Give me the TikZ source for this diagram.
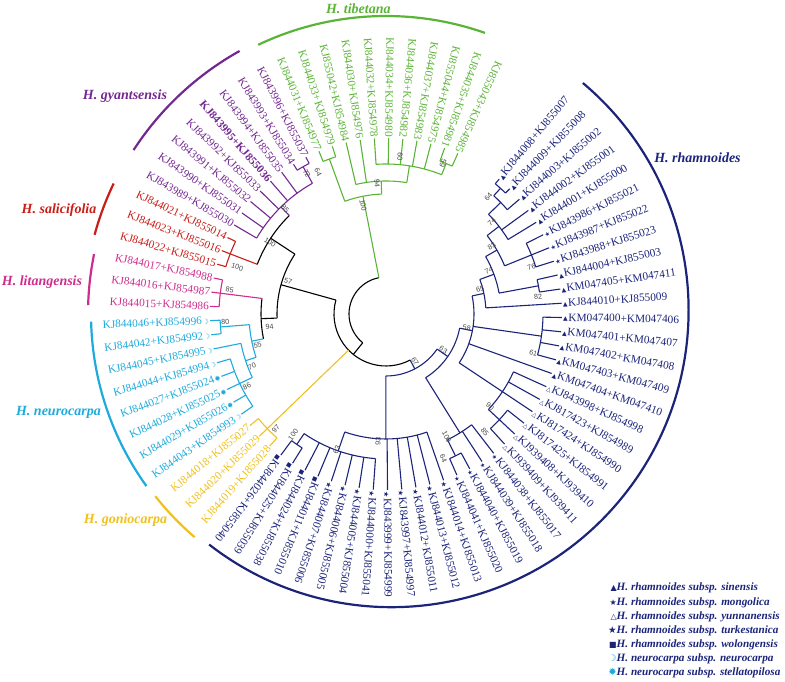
\documentclass[tikz,border=0pt]{standalone}
\usepackage{fontspec}
\setmainfont{Liberation Serif}
\newfontfamily\symf{DejaVu Sans}
\newfontfamily\numf{Liberation Sans}
\usetikzlibrary{calc}
\definecolor{navy}{RGB}{28,36,122}
\definecolor{grn}{RGB}{92,180,55}
\definecolor{pur}{RGB}{115,40,145}
\definecolor{rd}{RGB}{200,30,25}
\definecolor{pnk}{RGB}{205,45,140}
\definecolor{cy}{RGB}{30,170,220}
\definecolor{yl}{RGB}{240,192,30}
\definecolor{bsg}{RGB}{70,70,70}
\tikzset{
 br/.style={line width=1.1pt},
 lbl/.style={inner sep=0.6pt, font=\fontsize{11.3}{12}\selectfont},
 bsl/.style={inner sep=0pt, font=\numf\fontsize{7.2}{7.2}\selectfont, text=bsg},
 clade/.style={font=\fontsize{14}{16}\selectfont\bfseries\itshape, inner sep=0pt},
 brk/.style={line width=2.2pt},
 leg/.style={font=\fontsize{11.2}{12}\selectfont\bfseries\itshape, text=navy, inner sep=0pt, anchor=west},
}
\newcommand\gly[2]{{\symf\fontsize{#1}{#1}\selectfont #2}}
\newcommand\Mtri{\gly{6}{▲}}
\newcommand\Motri{\gly{6}{△}}
\newcommand\Mss{\gly{6}{★}}
\newcommand\Mbs{\gly{7}{★}}
\newcommand\Msq{\gly{5.5}{■}}
\newcommand\Mmoon{\gly{7}{☽}}
\newcommand\Msun{\gly{7.5}{✹}}
% arc: color, radius, start, end
\newcommand\arcn[4]{\draw[br,#1] ([shift={(C)}]#3:#2) arc[start angle=#3,end angle=#4,radius=#2];}
% radial: color, angle, r1, r2
\newcommand\radn[4]{\draw[br,#1] ([shift={(C)}]#2:#3) -- ([shift={(C)}]#2:#4);}
% leaf branch: color, r, k
\newcommand\lbr[3]{\pgfmathsetmacro\la{50-4.65*(#3-1)}\draw[br,#1] ([shift={(C)}]\la:#2) -- ([shift={(C)}]\la:176);}
\newcommand\lbrs[4]{\foreach \kk in {#3,...,#4}{\lbr{#1}{#2}{\kk}}}
% leaf label: k, color, marker, text
\newcommand\leaf[4]{\pgfmathsetmacro\la{50-4.65*(#1-1)}%
 \ifnum#1<40
  \node[lbl,text=#2,anchor=west,rotate=\la] at ([shift={(C)}]\la:176.5) {#3\hspace{0.6pt}#4};
 \else
  \pgfmathsetmacro\lr{\la-180}%
  \node[lbl,text=#2,anchor=east,rotate=\lr] at ([shift={(C)}]\la:176.5) {#4\hspace{0.6pt}#3};
 \fi}
% bootstrap: angle, r, text
\newcommand\bs[3]{\pgfmathsetmacro\rt{(#1>-85 && #1<60) ? #1 : #1-180}%
 \node[bsl,rotate=\rt] at ([shift={(C)}]#1:#2) {#3};}
\begin{document}
\begin{tikzpicture}[x=1pt,y=1pt]
\useasboundingbox (0,0) rectangle (785,682);
\coordinate (C) at (386,368);
% ---------- backbone
\arcn{black}{37}{101.07}{231.06}
\radn{black}{231.06}{37}{52}
\arcn{black}{52}{164.43}{297.7}
% ---------- H. tibetana
\radn{grn}{101.07}{37}{120}
\arcn{grn}{120}{92.06}{110.075}
\radn{grn}{110.075}{120}{165}
\arcn{grn}{165}{107.75}{112.4}
\lbrs{grn}{165}{65}{66}
\radn{grn}{92.06}{120}{133}
\arcn{grn}{133}{81.01}{103.10}
\lbrs{grn}{133}{67}{68}
\radn{grn}{81.01}{133}{150}
\arcn{grn}{150}{68.225}{93.80}
\lbrs{grn}{150}{69}{73}
\radn{grn}{68.225}{150}{162}
\arcn{grn}{162}{65.9}{70.55}
\lbrs{grn}{162}{74}{75}
% ---------- clade 57
\radn{black}{164.43}{52}{109}
\arcn{black}{109}{146.70}{182.15}
\radn{black}{146.70}{109}{138}
\arcn{black}{138}{134.49}{158.9}
\radn{rd}{158.9}{138}{167}
\arcn{rd}{167}{154.25}{163.55}
\lbrs{rd}{167}{54}{56}
\radn{pur}{134.49}{138}{150}
\arcn{pur}{150}{119.375}{149.6}
\lbrs{pur}{150}{57}{62}
\radn{pur}{119.375}{150}{169}
\arcn{pur}{169}{117.05}{121.7}
\lbrs{pur}{169}{63}{64}
\radn{black}{182.15}{109}{125}
\arcn{black}{125}{172.85}{191.45}
\radn{pnk}{172.85}{125}{167}
\arcn{pnk}{167}{168.2}{177.5}
\lbrs{pnk}{167}{51}{53}
\radn{cy}{191.45}{125}{137}
\arcn{cy}{137}{184.475}{198.43}
\radn{cy}{184.475}{137}{166}
\arcn{cy}{166}{182.15}{186.8}
\lbrs{cy}{166}{49}{50}
\radn{cy}{198.43}{137}{148}
\arcn{cy}{148}{191.45}{205.4}
\lbr{cy}{148}{48}
\radn{cy}{205.4}{148}{162}
\arcn{cy}{162}{196.1}{214.7}
\lbrs{cy}{162}{43}{47}
% ---------- H. goniocarpa
\radn{yl}{224}{52}{165}
\arcn{yl}{165}{219.35}{228.65}
\lbrs{yl}{165}{40}{42}
% ---------- H. rhamnoides
\radn{navy}{-62.3}{52}{62}
\arcn{navy}{62}{-90.08}{-34.52}
\radn{navy}{-90.08}{62}{125}
\arcn{navy}{125}{-109.26}{-70.9}
\lbrs{navy}{125}{27}{31}
\radn{navy}{-109.26}{125}{145}
\arcn{navy}{145}{-124.375}{-94.15}
\lbrs{navy}{145}{32}{37}
\radn{navy}{-124.375}{145}{158}
\arcn{navy}{158}{-126.7}{-122.05}
\lbrs{navy}{158}{38}{39}
\radn{navy}{-34.52}{62}{75}
\arcn{navy}{75}{-58.11}{-10.92}
\radn{navy}{-58.11}{75}{140}
\arcn{navy}{140}{-63.925}{-52.3}
\lbrs{navy}{140}{23}{24}
\radn{navy}{-63.925}{140}{158}
\arcn{navy}{158}{-66.25}{-61.6}
\lbrs{navy}{158}{25}{26}
\radn{navy}{-10.92}{75}{88}
\arcn{navy}{88}{-33.7}{11.86}
\radn{navy}{-33.7}{88}{140}
\arcn{navy}{140}{-43.0}{-24.4}
\lbrs{navy}{140}{17}{19}
\radn{navy}{-43.0}{140}{155}
\arcn{navy}{155}{-47.65}{-38.35}
\lbrs{navy}{155}{20}{22}
\lbr{navy}{88}{16}
\radn{navy}{-8.125}{88}{157}
\arcn{navy}{157}{-15.10}{-1.15}
\lbrs{navy}{157}{12}{15}
\radn{navy}{11.86}{88}{100}
\arcn{navy}{100}{3.5}{20.21}
\lbr{navy}{100}{11}
\radn{navy}{20.21}{100}{115}
\arcn{navy}{115}{10.475}{29.95}
\radn{navy}{10.475}{115}{155}
\arcn{navy}{155}{8.15}{12.8}
\lbrs{navy}{155}{9}{10}
\radn{navy}{29.95}{115}{128}
\arcn{navy}{128}{22.1}{37.79}
\radn{navy}{22.1}{128}{157}
\arcn{navy}{157}{17.45}{26.75}
\lbrs{navy}{157}{6}{8}
\radn{navy}{37.79}{128}{143}
\arcn{navy}{143}{31.4}{44.19}
\lbrs{navy}{143}{4}{5}
\radn{navy}{44.19}{143}{160}
\arcn{navy}{160}{40.7}{47.675}
\lbr{navy}{160}{3}
\radn{navy}{47.675}{160}{170}
\arcn{navy}{170}{45.35}{50}
\lbrs{navy}{170}{1}{2}
% ---------- leaf labels
\leaf{1}{navy}{\Mtri}{KJ844008+KJ855007}
\leaf{2}{navy}{\Mtri}{KJ844009+KJ855008}
\leaf{3}{navy}{\Mtri}{KJ844003+KJ855002}
\leaf{4}{navy}{\Mtri}{KJ844002+KJ855001}
\leaf{5}{navy}{\Mtri}{KJ844001+KJ855000}
\leaf{6}{navy}{\Mss}{KJ843986+KJ855021}
\leaf{7}{navy}{\Mss}{KJ843987+KJ855022}
\leaf{8}{navy}{\Mss}{KJ843988+KJ855023}
\leaf{9}{navy}{\Mtri}{KJ844004+KJ855003}
\leaf{10}{navy}{\Mtri}{KM047405+KM047411}
\leaf{11}{navy}{\Mtri}{KJ844010+KJ855009}
\leaf{12}{navy}{\Mtri}{KM047400+KM047406}
\leaf{13}{navy}{\Mtri}{KM047401+KM047407}
\leaf{14}{navy}{\Mtri}{KM047402+KM047408}
\leaf{15}{navy}{\Mtri}{KM047403+KM047409}
\leaf{16}{navy}{\Mtri}{KM047404+KM047410}
\leaf{17}{navy}{\Motri}{KJ843998+KJ854998}
\leaf{18}{navy}{\Motri}{KJ817423+KJ854989}
\leaf{19}{navy}{\Motri}{KJ817424+KJ854990}
\leaf{20}{navy}{\Motri}{KJ817425+KJ854991}
\leaf{21}{navy}{\Motri}{KJ939408+KJ939410}
\leaf{22}{navy}{\Motri}{KJ939409+KJ939411}
\leaf{23}{navy}{\Mss}{KJ844038+KJ855017}
\leaf{24}{navy}{\Mss}{KJ844039+KJ855018}
\leaf{25}{navy}{\Mss}{KJ844040+KJ855019}
\leaf{26}{navy}{\Mss}{KJ844041+KJ855020}
\leaf{27}{navy}{\Mbs}{KJ844014+KJ855013}
\leaf{28}{navy}{\Mbs}{KJ844013+KJ855012}
\leaf{29}{navy}{\Mbs}{KJ844012+KJ855011}
\leaf{30}{navy}{\Mbs}{KJ843997+KJ854997}
\leaf{31}{navy}{\Mbs}{KJ843999+KJ854999}
\leaf{32}{navy}{\Mbs}{KJ844000+KJ855041}
\leaf{33}{navy}{\Mbs}{KJ844005+KJ855004}
\leaf{34}{navy}{\Mbs}{KJ844006+KJ855005}
\leaf{35}{navy}{\Mbs}{KJ844007+KJ855006}
\leaf{36}{navy}{\Msq}{KJ844011+KJ855010}
\leaf{37}{navy}{\Msq}{KJ844024+KJ855038}
\leaf{38}{navy}{\Msq}{KJ844025+KJ855039}
\leaf{39}{navy}{\Msq}{KJ844026+KJ855040}
\leaf{40}{yl}{}{KJ844019+KJ855028}
\leaf{41}{yl}{}{KJ844020+KJ855029}
\leaf{42}{yl}{}{KJ844018+KJ855027}
\leaf{43}{cy}{\Mmoon}{KJ844043+KJ854993}
\leaf{44}{cy}{\Msun}{KJ844029+KJ855026}
\leaf{45}{cy}{\Msun}{KJ844028+KJ855025}
\leaf{46}{cy}{\Msun}{KJ844027+KJ855024}
\leaf{47}{cy}{\Mmoon}{KJ844044+KJ854994}
\leaf{48}{cy}{\Mmoon}{KJ844045+KJ854995}
\leaf{49}{cy}{\Mmoon}{KJ844042+KJ854992}
\leaf{50}{cy}{\Mmoon}{KJ844046+KJ854996}
\leaf{51}{pnk}{}{KJ844015+KJ854986}
\leaf{52}{pnk}{}{KJ844016+KJ854987}
\leaf{53}{pnk}{}{KJ844017+KJ854988}
\leaf{54}{rd}{}{KJ844022+KJ855015}
\leaf{55}{rd}{}{KJ844023+KJ855016}
\leaf{56}{rd}{}{KJ844021+KJ855014}
\leaf{57}{pur}{}{KJ843989+KJ855030}
\leaf{58}{pur}{}{KJ843990+KJ855031}
\leaf{59}{pur}{}{KJ843991+KJ855032}
\leaf{60}{pur}{}{KJ843992+KJ855033}
\leaf{61}{pur}{}{\bfseries KJ843995+KJ855036}
\leaf{62}{pur}{}{KJ843994+KJ855035}
\leaf{63}{pur}{}{KJ843993+KJ855034}
\leaf{64}{pur}{}{KJ843996+KJ855037}
\leaf{65}{grn}{}{KJ844031+KJ854977}
\leaf{66}{grn}{}{KJ844033+KJ854979}
\leaf{67}{grn}{}{KJ855042+KJ854984}
\leaf{68}{grn}{}{KJ844030+KJ854976}
\leaf{69}{grn}{}{KJ844032+KJ854978}
\leaf{70}{grn}{}{KJ844034+KJ854980}
\leaf{71}{grn}{}{KJ844036+KJ854982}
\leaf{72}{grn}{}{KJ844037+KJ854983}
\leaf{73}{grn}{}{KJ855044+KJ854975}
\leaf{74}{grn}{}{KJ844035+KJ854981}
\leaf{75}{grn}{}{KJ855043+KJ854985}
% ---------- bootstrap values
\bs{101.9}{111}{100}
\bs{93.9}{131}{94}
\bs{115.6}{157}{64}
\bs{84.9}{158}{60}
\bs{69.3}{161}{59}
\bs{119.4}{161.5}{72}
\bs{133.7}{146}{85}
\bs{148.2}{136.5}{100}
\bs{162.5}{156}{100}
\bs{161.7}{103}{57}
\bs{186.2}{117}{94}
\bs{171.3}{158}{85}
\bs{182.7}{161}{80}
\bs{193.5}{132}{55}
\bs{201.4}{144}{70}
\bs{207.6}{157}{86}
\bs{226.3}{159.4}{97}
\bs{-58.7}{55.8}{67}
\bs{-32.1}{67.7}{63}
\bs{-10}{82}{58}
\bs{14.7}{97.2}{65}
\bs{22.8}{111.7}{74}
\bs{32.5}{125.3}{83}
\bs{41.1}{140.3}{74}
\bs{48.9}{155.6}{64}
\bs{18}{153}{76}
\bs{6.5}{153}{82}
\bs{-14.9}{152.5}{61}
\bs{-41.7}{139.3}{90}
\bs{-50}{153.8}{85}
\bs{-63.7}{136.9}{100}
\bs{-68.3}{155.3}{64}
\bs{-93.5}{127.9}{93}
\bs{-109.9}{144.7}{63}
\bs{-127.5}{152.4}{100}
% ---------- clade brackets
\draw[brk,navy] (391.6,371.8) ++(49.9:297) arc[start angle=49.9,end angle=-127.9,radius=297];
\draw[brk,grn] (C) ++(115.4:298) arc[start angle=115.4,end angle=70.6,radius=298];
\draw[brk,pur] (C) ++(119.1:301) arc[start angle=119.1,end angle=147,radius=301];
\draw[brk,rd] (C) ++(154.4:302) arc[start angle=154.4,end angle=164.8,radius=302];
\draw[brk,pnk] (C) ++(168.4:298) arc[start angle=168.4,end angle=178.3,radius=298];
\draw[brk,cy] (C) ++(181.5:295) arc[start angle=181.5,end angle=215.7,radius=295];
\draw[brk,yl] (C) ++(218.3:294) arc[start angle=218.3,end angle=229.4,radius=294];
\node[clade,text=grn] (ctib) at (358.3,673.7) {H. tibetana};
\node[clade,text=navy] (crha) at (697.5,524) {H. rhamnoides};
\node[clade,text=pur] (cgya) at (125,586) {H. gyantsensis};
\node[clade,text=rd] (csal) at (59,472) {H. salicifolia};
\node[clade,text=pnk] (clit) at (42,400) {H. litangensis};
\node[clade,text=cy] (cneu) at (58.5,270) {H. neurocarpa};
\node[clade,text=yl] (cgon) at (125.5,162) {H. goniocarpa};
% ---------- legend
\node[leg] (l1) at (616.5,93.7) {\llap{\textcolor{navy}{\gly{8}{▲}}}H. rhamnoides subsp. sinensis};
\node[leg] (l2) at (616.5,79.3) {\llap{\textcolor{navy}{\gly{8}{★}}}H. rhamnoides subsp. mongolica};
\node[leg] (l3) at (616.5,65.3) {\llap{\textcolor{navy}{\gly{8}{△}}}H. rhamnoides subsp. yunnanensis};
\node[leg] (l4) at (616.5,51.3) {\llap{\textcolor{navy}{\gly{9.5}{★}}}H. rhamnoides subsp. turkestanica};
\node[leg] (l5) at (616.5,37.0) {\llap{\textcolor{navy}{\gly{8}{■}}}H. rhamnoides subsp. wolongensis};
\node[leg] (l6) at (616.5,22.7) {\llap{\textcolor{cy}{\gly{9.5}{☽}}}H. neurocarpa subsp. neurocarpa};
\node[leg] (l7) at (616.5,9.3) {\llap{\textcolor{cy}{\gly{10}{✹}}}H. neurocarpa subsp. stellatopilosa};
\end{tikzpicture}
\end{document}
